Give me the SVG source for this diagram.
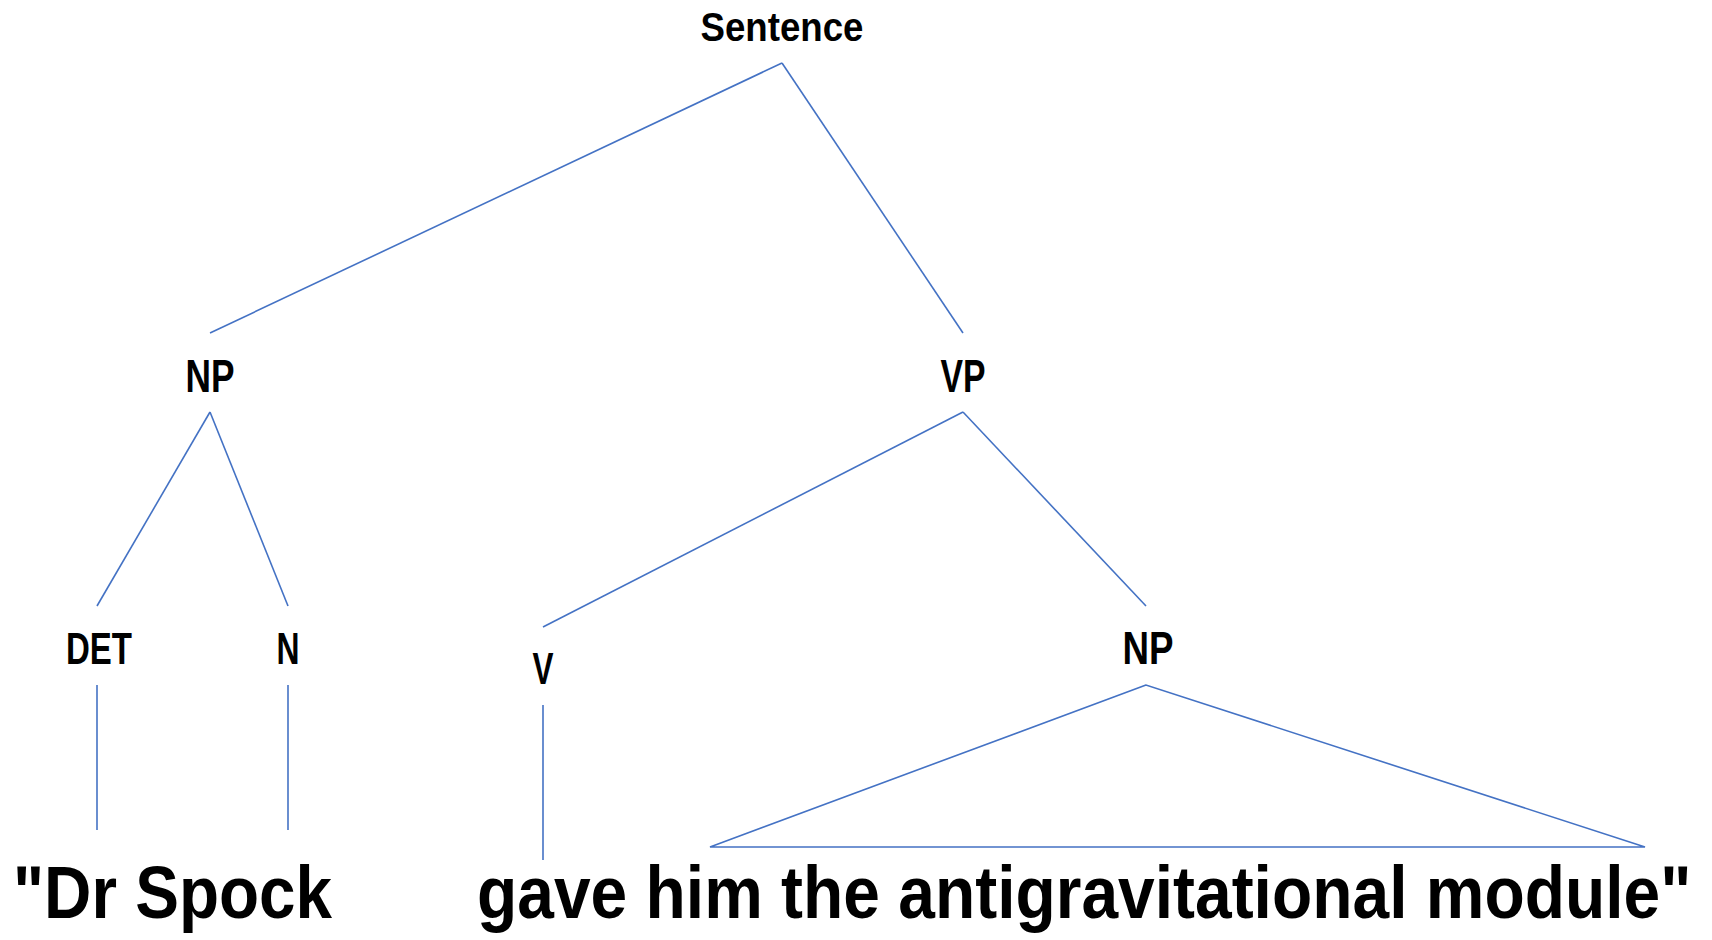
<svg xmlns="http://www.w3.org/2000/svg" width="1712" height="940" viewBox="0 0 1712 940">
<style>
.lbl{font-family:"Liberation Sans Narrow","Liberation Sans",Arial,sans-serif;font-weight:bold;fill:#000;text-anchor:middle}
.big{font-family:"Liberation Sans","Liberation Sans Narrow",Arial,sans-serif;font-weight:bold;fill:#000;font-size:74px}
.e{stroke:#4472C4;stroke-width:1.6;fill:none}
</style>
<rect width="1712" height="940" fill="#fff"/>
<g id="connectors">
<line class="e" x1="782" y1="63" x2="210" y2="333"/>
<line class="e" x1="782" y1="63" x2="963" y2="333"/>
<line class="e" x1="210" y1="412" x2="97" y2="606"/>
<line class="e" x1="210" y1="412" x2="288" y2="606"/>
<line class="e" x1="963" y1="412" x2="543" y2="627"/>
<line class="e" x1="963" y1="412" x2="1146" y2="606"/>
<line class="e" x1="97" y1="685" x2="97" y2="830"/>
<line class="e" x1="288" y1="685" x2="288" y2="830"/>
<line class="e" x1="543" y1="705" x2="543" y2="860"/>
<polygon class="e" points="1146,685 710,847 1645,847"/>
</g>
<g id="n-sentence"><text class="lbl" x="782" y="41" font-size="40" textLength="163" lengthAdjust="spacingAndGlyphs">Sentence</text></g>
<g id="n-np1"><text class="lbl" x="210" y="392" font-size="46" textLength="49" lengthAdjust="spacingAndGlyphs">NP</text></g>
<g id="n-vp"><text class="lbl" x="963" y="392" font-size="46" textLength="45" lengthAdjust="spacingAndGlyphs">VP</text></g>
<g id="n-det"><text class="lbl" x="99" y="664" font-size="45" textLength="66" lengthAdjust="spacingAndGlyphs">DET</text></g>
<g id="n-n"><text class="lbl" x="288" y="664" font-size="45" textLength="23" lengthAdjust="spacingAndGlyphs">N</text></g>
<g id="n-v"><text class="lbl" x="543" y="684" font-size="45" textLength="21" lengthAdjust="spacingAndGlyphs">V</text></g>
<g id="n-np2"><text class="lbl" x="1148" y="664" font-size="46" textLength="51" lengthAdjust="spacingAndGlyphs">NP</text></g>
<g id="w-subject"><text class="big" transform="translate(13,918) scale(0.886,1)" x="0" y="0" textLength="360" lengthAdjust="spacingAndGlyphs">"Dr Spock</text></g>
<g id="w-predicate"><text class="big" transform="translate(477,918) scale(0.891,1)" x="0" y="0" textLength="1363" lengthAdjust="spacingAndGlyphs">gave him the antigravitational module"</text></g>
</svg>
